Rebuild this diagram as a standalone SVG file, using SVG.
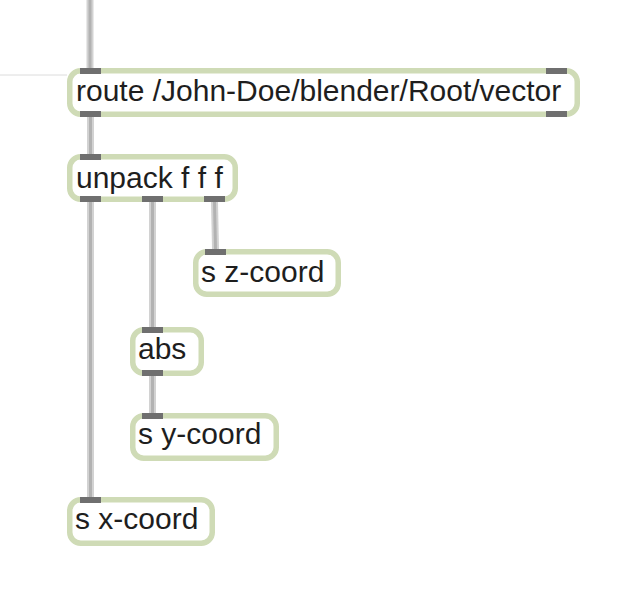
<svg xmlns="http://www.w3.org/2000/svg" width="640" height="600" viewBox="0 0 640 600">
<style>
.box{fill:#ffffff;stroke:#cfdbb6;stroke-width:5.5}
.port{fill:#6f6f6f}
.lbl{font-family:"Liberation Sans",Arial,sans-serif;font-size:30px;fill:#1e1e1e}
.w{stroke:#d2d2d2;stroke-width:7;fill:none}
.c{stroke:#b2b2b2;stroke-width:3;fill:none}
</style>
<rect width="640" height="600" fill="#ffffff"/>
<line x1="0" y1="75" x2="67" y2="75" stroke="#dcdcdc" stroke-width="1"/>
<g id="connectors">
<line class="w" x1="90" y1="0" x2="90" y2="68"/><line class="c" x1="90" y1="0" x2="90" y2="68"/>
<line class="w" x1="90.5" y1="117" x2="90.5" y2="154"/><line class="c" x1="90.5" y1="117" x2="90.5" y2="154"/>
<line class="w" x1="90.5" y1="202" x2="90.5" y2="497"/><line class="c" x1="90.5" y1="202" x2="90.5" y2="497"/>
<line class="w" x1="152.5" y1="202" x2="152.5" y2="327"/><line class="c" x1="152.5" y1="202" x2="152.5" y2="327"/>
<line class="w" x1="214.5" y1="202" x2="215.5" y2="249"/><line class="c" x1="214.5" y1="202" x2="215.5" y2="249"/>
<line class="w" x1="152.5" y1="376" x2="152.5" y2="413"/><line class="c" x1="152.5" y1="376" x2="152.5" y2="413"/>
</g>
<g id="route">
<rect class="box" x="69.75" y="70.75" width="507.5" height="43.5" rx="11"/>
<rect class="port" x="80" y="68" width="21" height="6"/>
<rect class="port" x="546" y="68" width="21" height="6"/>
<rect class="port" x="80" y="111" width="21" height="6"/>
<rect class="port" x="546" y="111" width="21" height="6"/>
<text class="lbl" x="76" y="101">route /John-Doe/blender/Root/vector</text>
</g>
<g id="unpack">
<rect class="box" x="69.75" y="156.75" width="165.5" height="42.5" rx="11"/>
<rect class="port" x="80" y="154" width="21" height="6"/>
<rect class="port" x="80" y="196" width="21" height="6"/>
<rect class="port" x="142" y="196" width="21" height="6"/>
<rect class="port" x="204" y="196" width="21" height="6"/>
<text class="lbl" x="76" y="188">unpack f f f</text>
</g>
<g id="sz">
<rect class="box" x="195.75" y="251.75" width="142.5" height="42.5" rx="11"/>
<rect class="port" x="205" y="249" width="21" height="6"/>
<text class="lbl" x="201" y="282">s z-coord</text>
</g>
<g id="abs">
<rect class="box" x="132.75" y="329.75" width="68.5" height="43.5" rx="11"/>
<rect class="port" x="142" y="327" width="21" height="6"/>
<rect class="port" x="142" y="370" width="21" height="6"/>
<text class="lbl" x="138" y="359">abs</text>
</g>
<g id="sy">
<rect class="box" x="132.75" y="415.75" width="143.5" height="42.5" rx="11"/>
<rect class="port" x="142" y="413" width="21" height="6"/>
<text class="lbl" x="138" y="444">s y-coord</text>
</g>
<g id="sx">
<rect class="box" x="69.75" y="499.75" width="142.5" height="43.5" rx="11"/>
<rect class="port" x="80" y="497" width="21" height="6"/>
<text class="lbl" x="75" y="529">s x-coord</text>
</g>
</svg>
